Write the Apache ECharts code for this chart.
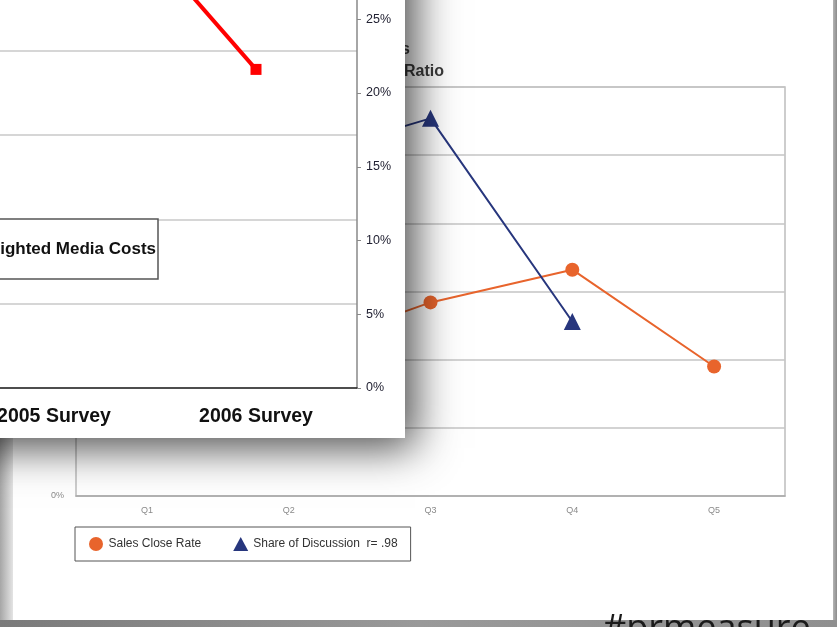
<!DOCTYPE html>
<html>
<head>
<meta charset="utf-8">
<style>
  html, body { margin: 0; padding: 0; background: #999; }
  #chart { width: 837px; height: 627px; }
</style>
<script src="https://cdn.jsdelivr.net/npm/echarts@6/dist/echarts.min.js"></script>
</head>
<body>
<div id="chart"></div>
<script>
// Quarterly chart (back slide)
const quarterCategories = ['Q1', 'Q2', 'Q3', 'Q4', 'Q5'];
const salesCloseRate = [7.5, 10.5, 14.2, 16.6, 9.5];
const shareOfDiscussion = [19.0, 24.6, 27.7, 12.8, null];
const quarterAxisMax = 30;
const quarterAxisStep = 5;

// Survey chart (front slide)
const surveyCategories = ['2005 Survey', '2006 Survey'];
const weightedMediaCosts = [37.3, 21.6];
const surveyPercentMax = 40;
const surveyPercentStep = 5;
const surveyLeftMax = 70;
const surveyLeftStep = 10;

const SANS = "'Liberation Sans', Arial, sans-serif";

const chart = echarts.init(document.getElementById('chart'), null, { renderer: 'canvas' });

chart.setOption({
  animation: false,
  backgroundColor: '#999999',
  grid: [
    { left: 76, top: 87, width: 709, height: 409, show: true, borderColor: '#bdbdbd', borderWidth: 1.5,
      outerBoundsMode: 'none', z: 1 },
    { left: -47, top: -202, width: 404, height: 590, show: false, outerBoundsMode: 'none', z: 11 }
  ],
  xAxis: [
    {
      gridIndex: 0, type: 'category', data: quarterCategories, z: 1,
      axisLine: { lineStyle: { color: '#aaaaaa', width: 1.5 } },
      axisTick: { length: 4, lineStyle: { color: '#aaaaaa' } },
      axisLabel: { fontFamily: SANS, fontSize: 9, color: '#8a8a8a', margin: 10 }
    },
    {
      gridIndex: 1, type: 'category', data: surveyCategories, z: 11,
      axisLine: { lineStyle: { color: '#222222', width: 1.5 } },
      axisTick: { length: 6, lineStyle: { color: '#222222', width: 1.5 } },
      axisLabel: { fontFamily: SANS, fontWeight: 'bold', fontSize: 19.5, color: '#111111', margin: 19 }
    }
  ],
  yAxis: [
    {
      gridIndex: 0, type: 'value', min: 0, max: quarterAxisMax, interval: quarterAxisStep, z: 1,
      axisLine: { show: false }, axisTick: { show: false },
      axisLabel: { formatter: '{value}%', fontFamily: SANS, fontSize: 9, color: '#8a8a8a', margin: 12 },
      splitLine: { lineStyle: { color: '#c4c4c4', width: 1.5 } }
    },
    {
      gridIndex: 1, type: 'value', position: 'left', min: 0, max: surveyLeftMax, interval: surveyLeftStep, z: 11,
      axisLine: { show: false }, axisTick: { show: false }, axisLabel: { show: false },
      splitLine: { lineStyle: { color: '#c9c9c9', width: 1.5 } }
    },
    {
      gridIndex: 1, type: 'value', position: 'right', min: 0, max: surveyPercentMax, interval: surveyPercentStep, z: 11,
      axisLine: { show: true, lineStyle: { color: '#888888', width: 1.5 } },
      axisTick: { show: true, length: 4, lineStyle: { color: '#888888' } },
      axisLabel: { formatter: '{value}%', fontFamily: SANS, fontSize: 12.5, color: '#222233', margin: 9 },
      splitLine: { show: false }
    }
  ],
  legend: [
    {
      left: 75, top: 527, padding: [10, 13, 10, 14], itemGap: 32, itemWidth: 15, itemHeight: 14,
      borderColor: '#555555', borderWidth: 1, backgroundColor: '#ffffff',
      textStyle: { fontFamily: SANS, fontSize: 12, color: '#333333' },
      data: [
        { name: 'Sales Close Rate', icon: 'circle' },
        { name: 'Share of Discussion', icon: 'triangle' }
      ],
      formatter: function (name) { return name === 'Share of Discussion' ? name + '  r= .98' : name; },
      z: 4
    },
    {
      right: 679, top: 219, padding: [21, 2, 21, 10], itemWidth: 14, itemHeight: 12,
      borderColor: '#555555', borderWidth: 1.5, backgroundColor: '#ffffff',
      textStyle: { fontFamily: SANS, fontWeight: 'bold', fontSize: 17, color: '#111111', lineHeight: 18 },
      data: [{ name: 'Weighted Media Costs', icon: 'rect' }],
      z: 13
    }
  ],
  series: [
    {
      name: 'Sales Close Rate', type: 'line', xAxisIndex: 0, yAxisIndex: 0, data: salesCloseRate,
      symbol: 'circle', symbolSize: 14, z: 3,
      lineStyle: { color: '#e8642c', width: 2 }, itemStyle: { color: '#e8642c' }
    },
    {
      name: 'Share of Discussion', type: 'line', xAxisIndex: 0, yAxisIndex: 0, data: shareOfDiscussion,
      symbol: 'triangle', symbolSize: 17, z: 3,
      lineStyle: { color: '#27367d', width: 2 }, itemStyle: { color: '#27367d' }
    },
    {
      name: 'Weighted Media Costs', type: 'line', xAxisIndex: 1, yAxisIndex: 2, data: weightedMediaCosts,
      symbol: 'rect', symbolSize: 11, z: 12,
      lineStyle: { color: '#ff0000', width: 4 }, itemStyle: { color: '#ff0000' }
    }
  ],
  graphic: [
    // page edges around the back slide
    {
      type: 'rect', z: 0, shape: { x: 0, y: 0, width: 13, height: 627 },
      style: { fill: new echarts.graphic.LinearGradient(0, 0, 1, 0, [
        { offset: 0, color: '#a6a6a6' }, { offset: 1, color: '#e4e4e4' }]) }
    },
    {
      type: 'rect', z: 0, shape: { x: 833, y: 0, width: 4, height: 627 },
      style: { fill: new echarts.graphic.LinearGradient(0, 0, 1, 0, [
        { offset: 0, color: '#b5b5b5' }, { offset: 1, color: '#8c8c8c' }]) }
    },
    {
      type: 'rect', z: 0, shape: { x: 0, y: 620, width: 837, height: 7 },
      style: { fill: new echarts.graphic.LinearGradient(0, 0, 1, 0, [
        { offset: 0, color: '#7a7a7a' }, { offset: 0.5, color: '#999999' }, { offset: 1, color: '#8f8f8f' }]) }
    },
    // back slide sheet
    {
      type: 'rect', z: 0, shape: { x: 13, y: -20, width: 820, height: 640 },
      style: { fill: '#ffffff' }
    },
    // back slide title (right ends of its two lines)
    {
      type: 'text', z: 1, x: 410, y: 50,
      style: { text: 'Share of Discussion Trends', align: 'right', verticalAlign: 'middle',
        font: "bold 16px 'Liberation Sans', Arial, sans-serif", fill: '#3a3a3a' }
    },
    {
      type: 'text', z: 1, x: 444, y: 72,
      style: { text: 'vs. Sales Close Ratio', align: 'right', verticalAlign: 'middle',
        font: "bold 16px 'Liberation Sans', Arial, sans-serif", fill: '#3a3a3a' }
    },
    // front slide sheet with drop shadow
    {
      type: 'rect', z: 10, shape: { x: -60, y: -60, width: 465, height: 498 },
      style: { fill: '#ffffff', shadowBlur: 40, shadowOffsetX: 10, shadowOffsetY: 10,
        shadowColor: 'rgba(0,0,0,0.7)' }
    },
    // hashtag
    {
      type: 'text', z: 20, x: 603, y: 630,
      style: { text: '#prmeasure', align: 'left', verticalAlign: 'middle',
        font: "36px 'Open Sans', 'Noto Sans', sans-serif", fill: '#1a1a1a' }
    }
  ]
});
</script>
</body>
</html>
